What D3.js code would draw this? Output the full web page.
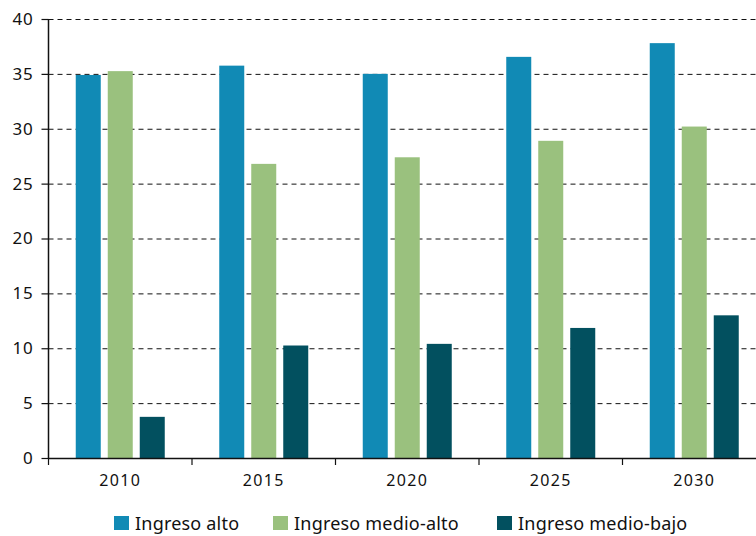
<!DOCTYPE html>
<html><head><meta charset="utf-8">
<script src="https://cdn.jsdelivr.net/npm/d3@7/dist/d3.min.js"></script>
<style>body{margin:0;background:#fff}svg{display:block}text{font-family:"Noto Sans",sans-serif;fill:#111}</style>
</head><body><svg id="c" width="756" height="536"></svg>
<script>
const categories = ["2010","2015","2020","2025","2030"];
const seriesNames = ["Ingreso alto","Ingreso medio-alto","Ingreso medio-bajo"];
const ingresoAlto = [34.9, 35.75, 35.0, 36.55, 37.8];
const ingresoMedioAlto = [35.25, 26.8, 27.4, 28.9, 30.2];
const ingresoMedioBajo = [3.75, 10.25, 10.4, 11.85, 13.0];
const yTicks = [0,5,10,15,20,25,30,35,40];
const colors = ["#118ab5","#9ac17e","#02505f"];

const series = [ingresoAlto, ingresoMedioAlto, ingresoMedioBajo];
const svg = d3.select("#c");
const x0 = 48.5, yTop = 19, yBot = 458;
const x = d3.scaleBand().domain(categories).range([x0, x0 + 143.5*5]);
const y = d3.scaleLinear().domain([0,40]).range([yBot, yTop]);
const barW = 25, gap = 7;

// gridlines
svg.append("g").selectAll("line").data(yTicks.filter(d=>d>0)).join("line")
  .attr("x1", x0).attr("x2", 756).attr("y1", d=>y(d)+0.5).attr("y2", d=>y(d)+0.5)
  .attr("stroke","#111").attr("stroke-width",1).attr("stroke-dasharray","5,4");

// bars
categories.forEach((c,i)=>{
  const cx = x(c) + x.bandwidth()/2;
  series.forEach((s,j)=>{
    const bx = cx - (3*barW+2*gap)/2 + j*(barW+gap);
    svg.append("rect").attr("x", bx).attr("width", barW)
      .attr("y", y(s[i])).attr("height", y(0)-y(s[i])).attr("fill", colors[j]);
  });
});

// y axis
const ya = d3.axisLeft(y).tickValues(yTicks).tickSize(7).tickPadding(8).tickFormat(d3.format("d"));
const gy = svg.append("g").attr("transform",`translate(${x0},0)`).call(ya);
gy.select(".domain").attr("d",`M0,${yTop}V${yBot}`).attr("stroke","#111").attr("stroke-width",1.5);
gy.selectAll(".tick line").attr("stroke","#111").attr("stroke-width",1.2);
gy.selectAll(".tick text").attr("font-size",17).attr("font-family","Noto Sans").attr("fill","#111").attr("letter-spacing","0.8px");

// x axis
svg.append("line").attr("x1",x0).attr("x2",756).attr("y1",yBot+0.5).attr("y2",yBot+0.5).attr("stroke","#111").attr("stroke-width",1.5);
const bounds = categories.slice(1).map(c=>x(c));
svg.append("g").selectAll("line").data([x0].concat(bounds)).join("line")
  .attr("x1",d=>d).attr("x2",d=>d).attr("y1",yBot).attr("y2",yBot+7).attr("stroke","#111").attr("stroke-width",1.2);
svg.append("g").selectAll("text").data(categories).join("text")
  .attr("x", d=>x(d)+x.bandwidth()/2).attr("y", 486).attr("text-anchor","middle")
  .attr("font-size",16).attr("letter-spacing","1.3px").text(d=>d);

// legend
const legX = [114, 273, 497];
seriesNames.forEach((n,j)=>{
  svg.append("rect").attr("x",legX[j]).attr("y",516).attr("width",15).attr("height",14).attr("fill",colors[j]);
  svg.append("text").attr("x",legX[j]+21).attr("y",530).attr("font-size",18).attr("letter-spacing","0.2px").text(n);
});
</script></body></html>
